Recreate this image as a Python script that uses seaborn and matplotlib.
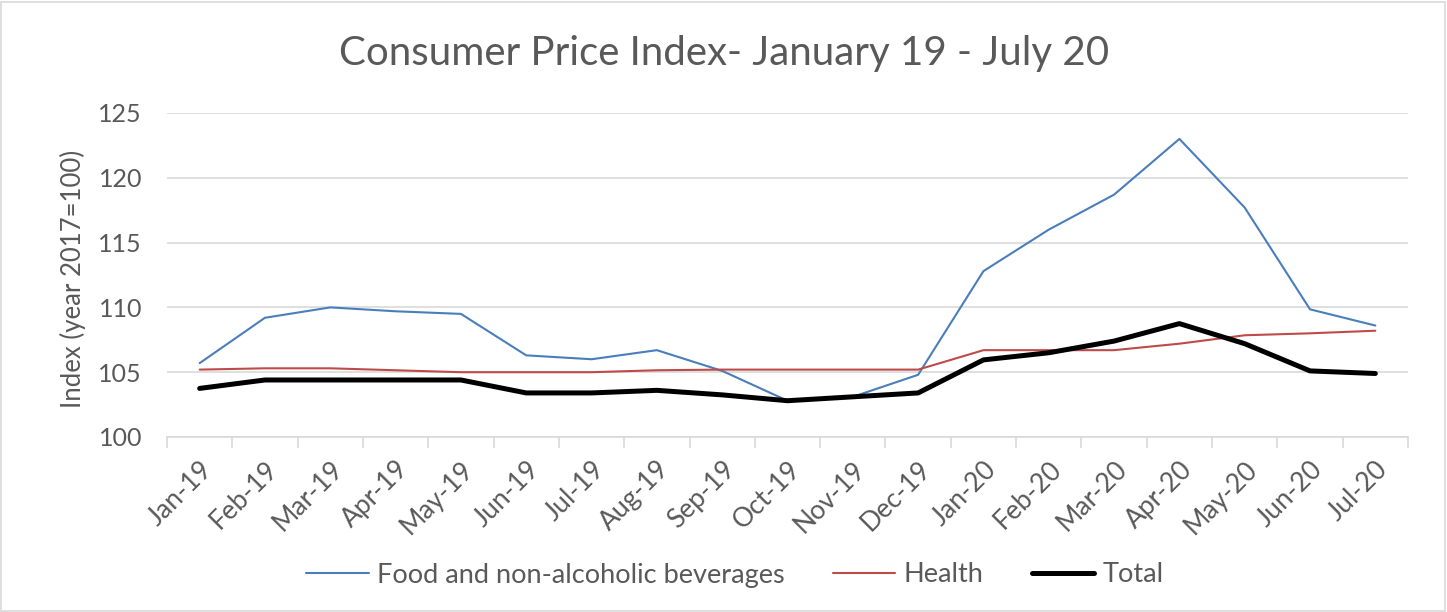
import matplotlib
matplotlib.use("Agg")
import matplotlib.pyplot as plt
import seaborn as sns
import pandas as pd
import numpy as np
from matplotlib.patches import Rectangle
from matplotlib.ticker import FixedLocator

months = ["Jan-19", "Feb-19", "Mar-19", "Apr-19", "May-19", "Jun-19", "Jul-19",
          "Aug-19", "Sep-19", "Oct-19", "Nov-19", "Dec-19", "Jan-20", "Feb-20",
          "Mar-20", "Apr-20", "May-20", "Jun-20", "Jul-20"]
food = [105.7, 109.2, 110.0, 109.7, 109.5, 106.3, 106.0, 106.7, 105.1, 102.8,
        103.1, 104.8, 112.8, 116.0, 118.7, 123.0, 117.7, 109.85, 108.6]
health = [105.2, 105.3, 105.3, 105.15, 105.0, 105.0, 105.0, 105.15, 105.2, 105.2,
          105.2, 105.2, 106.7, 106.7, 106.7, 107.2, 107.85, 108.0, 108.2]
total = [103.75, 104.4, 104.4, 104.4, 104.4, 103.4, 103.4, 103.6, 103.25, 102.8,
         103.1, 103.4, 105.95, 106.5, 107.4, 108.75, 107.2, 105.1, 104.9]
series_names = ["Food and non-alcoholic beverages", "Health", "Total"]
yticks = [100, 105, 110, 115, 120, 125]

sns.set_theme(style="white")
plt.rcParams['font.family'] = ['Lato', 'DejaVu Sans']

fig = plt.figure(figsize=(14.47, 6.12), dpi=100)
ax = fig.add_axes([167/1447, 1 - 437/612, (1408-167)/1447, (437-113)/612])

x = np.arange(len(months))
colors = ["#4A7EBB", "#BE4B48", "#000000"]
widths = [1.5, 1.5, 3.6]
for name, vals, c, w in zip(series_names, [food, health, total], colors, widths):
    df = pd.DataFrame({"x": x, "y": vals})
    sns.lineplot(data=df, x="x", y="y", ax=ax, color=c, linewidth=w, label=name,
                 solid_capstyle="round", solid_joinstyle="round")

ax.set_xlim(-0.5, len(months) - 0.5)
ax.set_ylim(100, 125)
ax.set_yticks(yticks)
ax.set_yticklabels([str(t) for t in yticks], fontsize=18, color="#595959")
ax.yaxis.grid(True, color="#D9D9D9", linewidth=1.2)
ax.set_axisbelow(True)
ax.set_xticks(x)
ax.set_xticklabels(months, rotation=45, ha="right", rotation_mode="anchor",
                   fontsize=19, color="#595959")
ax.xaxis.set_minor_locator(FixedLocator(np.arange(-0.5, len(months), 1.0)))
ax.tick_params(axis="x", which="major", length=0, pad=14)
ax.tick_params(axis="x", which="minor", length=8, width=1.2, color="#D9D9D9", direction="out", bottom=True)
ax.tick_params(axis="y", length=0, pad=18)
for s in ["top", "right", "left"]:
    ax.spines[s].set_visible(False)
ax.spines["bottom"].set_color("#D9D9D9")
ax.spines["bottom"].set_linewidth(1.2)
ax.set_xlabel("")
ax.set_ylabel("Index (year 2017=100)", fontsize=18.5, color="#595959")
ax.yaxis.set_label_coords((86 - 167) / 1241, (437 - 278.5) / 324)

fig.text(724/1447, 1 - 54/612, "Consumer Price Index- January 19 - July 20",
         ha="center", va="center", fontsize=29, color="#595959")

leg = ax.legend(loc="center", bbox_to_anchor=(735/1447, 1 - 575/612), bbox_transform=fig.transFigure,
                ncol=3, frameon=False, fontsize=19.5, handlelength=2.3, columnspacing=1.8,
                handletextpad=0.3)
for t in leg.get_texts():
    t.set_color("#595959")

fig.patches.append(Rectangle((1/1447, 1/612), 1444/1447, 609/612, transform=fig.transFigure,
                             fill=False, edgecolor="#D9D9D9", linewidth=1.2))

fig.savefig("out.png", dpi=100)
